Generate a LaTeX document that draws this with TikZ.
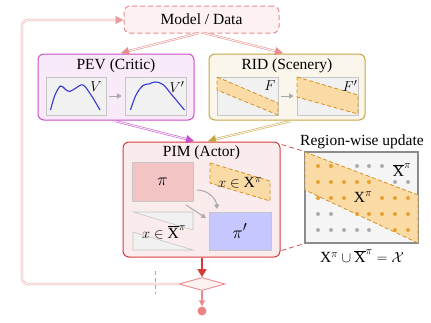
\documentclass[tikz,border=0pt]{standalone}
\usepackage{fontspec}
\setmainfont{Liberation Serif}
\usetikzlibrary{arrows.meta,shapes.geometric}
\definecolor{mpink}{HTML}{E88C8C}
\definecolor{mpinkfill}{HTML}{FDF1F1}
\definecolor{pev}{HTML}{C94FC9}
\definecolor{pevfill}{HTML}{F9EAF9}
\definecolor{rid}{HTML}{C9A447}
\definecolor{ridfill}{HTML}{FAF6EB}
\definecolor{pim}{HTML}{D83A3A}
\definecolor{pimfill}{HTML}{FAECEC}
\definecolor{bandfill}{HTML}{FADBA6}
\definecolor{bandline}{HTML}{D8901E}
\definecolor{curvec}{HTML}{3535D8}
\definecolor{innerfill}{HTML}{F1F1F1}
\definecolor{innerline}{HTML}{C6C6C6}
\definecolor{arrgray}{HTML}{AAAAAA}
\definecolor{dotorange}{HTML}{E8A030}
\definecolor{dotgray}{HTML}{ACACAC}
\begin{document}
\begin{tikzpicture}[x=1pt,y=-1pt,font=\fontsize{15.5}{17}\selectfont,
  panel/.style={draw,line width=1pt,rounded corners=6pt,inner sep=0pt},
  innerbox/.style={draw=innerline,fill=innerfill,line width=0.6pt,inner sep=0pt},
  dblarrow/.style={line width=0.5pt,double distance=1.1pt},
  grayarrow/.style={draw=arrgray,line width=1pt,-{Triangle[length=4.5pt,width=5pt]}},
  bandshape/.style={fill=bandfill,draw=bandline,dashed,dash pattern=on 4pt off 2.5pt,line width=0.8pt},
  dotO/.style={circle,fill=dotorange,inner sep=0pt,minimum size=4pt},
  dotG/.style={circle,fill=dotgray,inner sep=0pt,minimum size=4pt}]
\useasboundingbox (0,0) rectangle (431,322);

% Model / Data
\node[panel,draw=mpink,fill=mpinkfill,dashed,dash pattern=on 5pt off 3pt,minimum width=155pt,minimum height=27pt] (model) at (201.5,19.5) {Model / Data};

% PEV
\node[panel,draw=pev,fill=pevfill,minimum width=156pt,minimum height=66pt] (pev) at (116,87) {};
\node (pevt) at (116,66) {PEV (Critic)};
\node[innerbox,minimum width=60pt,minimum height=38pt] (v1) at (76,96) {};
\node[innerbox,minimum width=61pt,minimum height=38pt] (v2) at (155.5,96) {};
\draw[curvec,line width=1.1pt] plot[smooth,tension=0.6] coordinates {(50.5,110) (55,95) (60.5,86) (65,89) (69.5,91.5) (76,88) (83,85) (91,95) (100,110)};
\draw[curvec,line width=1.1pt] plot[smooth,tension=0.6] coordinates {(130.5,110) (136,95) (143,85.5) (149,84) (155,82) (163,84.5) (172,95) (184.5,110)};
\node (vl) at (96,87) {$V$};
\node (vl2) at (177,87) {$V'$};
\draw[grayarrow] ([xshift=3pt]v1.east) -- ([xshift=-3pt]v2.west);

% RID
\node[panel,draw=rid,fill=ridfill,minimum width=156pt,minimum height=66pt] (ridb) at (287,87) {};
\node (ridt) at (287,66) {RID (Scenery)};
\node[innerbox,minimum width=61pt,minimum height=38pt] (f1) at (247.5,96) {};
\node[innerbox,minimum width=61pt,minimum height=38pt] (f2) at (327.5,96) {};
\path[bandshape] (217,77) -- (278,103) -- (278,115) -- (217,90) -- cycle;
\path[bandshape] (297,77) -- (358,95) -- (358,114) -- (297,97) -- cycle;
\node (fl) at (270,86) {$F$};
\node (fl2) at (350,86) {$F'$};
\draw[grayarrow] ([xshift=3pt]f1.east) -- ([xshift=-3pt]f2.west);

% PIM
\node[panel,draw=pim,fill=pimfill,minimum width=157pt,minimum height=115pt] (pim) at (201.5,199.5) {};
\node (pimt) at (201.5,153) {PIM (Actor)};
\node[draw=innerline,fill=pim!30!white,line width=0.6pt,minimum width=61pt,minimum height=39pt,inner sep=0pt] (pi) at (162.5,181.5) {\fontsize{19}{19}\selectfont$\pi$};
\node[draw=innerline,fill=blue!22!white,line width=0.6pt,minimum width=62pt,minimum height=38pt,inner sep=0pt] (pip) at (240,231) {\fontsize{19}{19}\selectfont$\pi'$};
\path[bandshape] (210,163) -- (270,181) -- (270,201) -- (210,183) -- cycle;
\node (xin) at (240,183) {$x\in\mathrm{X}^{\pi}$};
\path[fill=innerfill,draw=innerline,line width=0.6pt] (133,212) -- (193,212) -- (193,230) -- cycle;
\path[fill=innerfill,draw=innerline,line width=0.6pt] (133,232) -- (133,250) -- (193,250) -- cycle;
\node (xout) at (164,232) {$x\in\overline{\mathrm{X}}^{\pi}$};
\coordinate (ca1) at (197,190);
\coordinate (ca2) at (217,209);
\draw[grayarrow] (ca1) to[out=0,in=95] (ca2);
\coordinate (sa1) at (186,205);
\coordinate (sa2) at (206,218);
\draw[grayarrow] (sa1) -- (sa2);

% arrows from model
\coordinate (m1) at (199,33);
\coordinate (m2) at (204,33);
\coordinate (pevin) at (121,53);
\coordinate (ridin) at (283,53);
\draw[dblarrow,draw=mpink,double=mpinkfill,-{Triangle[length=8pt,width=8pt]}] (m1) -- (pevin);
\draw[dblarrow,draw=mpink,double=mpinkfill,-{Triangle[length=8pt,width=8pt]}] (m2) -- (ridin);
\coordinate (p1) at (115,121);
\coordinate (r1) at (291,121);
\coordinate (pimin1) at (194,141);
\coordinate (pimin2) at (208,141);
\draw[dblarrow,draw=pev,double=pevfill,-{Triangle[length=8pt,width=8pt]}] (p1) -- (pimin1);
\draw[dblarrow,draw=rid,double=ridfill,-{Triangle[length=8pt,width=8pt]}] (r1) -- (pimin2);

% Region-wise update
\node (rwt) at (362,142) {Region-wise update};
\node[draw=gray!90,fill=gray!8,line width=1.1pt,minimum width=113pt,minimum height=91pt,inner sep=0pt] (reg) at (361.5,197.5) {};
\path[bandshape] (305,152) -- (418,195) -- (418,243) -- (305,190) -- cycle;
\foreach \x/\y/\s in {318/166/O,331/166/O,357/166/G,369/166/G,382/166/G,
  318/182/O,331/182/O,344/182/O,357/182/O,369/182/O,395/182/G,408/182/G,
  318/198/O,331/198/O,344/198/O,382/198/O,395/198/O,408/198/O,
  318/214/G,331/214/G,357/214/O,369/214/O,382/214/O,395/214/O,408/214/O,
  318/230/G,331/230/G,344/230/G,357/230/G,369/230/G,395/230/O,408/230/O}
  \node[dot\s] at (\x,\y) {};
\node (xbar) at (402,170) {$\overline{\mathrm{X}}^{\pi}$};
\node (xpi) at (363,197) {$\mathrm{X}^{\pi}$};
\node (union) at (362,256) {$\mathrm{X}^{\pi}\cup\overline{\mathrm{X}}^{\pi}=\mathcal{X}$};
\draw[pim,dashed,dash pattern=on 5pt off 3pt,line width=0.7pt] (pim.north east) ++(1,3) -- (reg.north west);
\draw[pim,dashed,dash pattern=on 5pt off 3pt,line width=0.7pt] (pim.south east) ++(1,-7) -- (reg.south west);

% bottom: diamond and terminal
\node[diamond,draw=mpink,fill=mpinkfill,line width=0.9pt,aspect=3.5,minimum width=46pt,minimum height=13pt,inner sep=0pt] (dia) at (202,284) {};
\node[circle,fill=mpink!95!red,inner sep=0pt,minimum size=9pt] (endc) at (202,311) {};
\draw[pim,line width=1.6pt,-{Triangle[length=8pt,width=9pt]}] (pim.south -| dia.north) -- (dia.north);
\draw[mpink,line width=1.2pt,-{Triangle[length=6pt,width=6pt]}] (dia.south) -- (endc.north);
\coordinate (lc1) at (22,284);
\coordinate (lc2) at (22,20);
\draw[dblarrow,draw=mpink!85,double=white,rounded corners=6pt,-{Triangle[length=8pt,width=8pt]}] (dia.west) -- (lc1) -- (lc2) -- (model.west |- lc2);
\coordinate (tk1) at (155,271);
\coordinate (tk2) at (155,294);
\draw[mpink,dashed,dash pattern=on 4pt off 3pt,line width=0.8pt] (tk1) -- (tk2);
\end{tikzpicture}
\end{document}
